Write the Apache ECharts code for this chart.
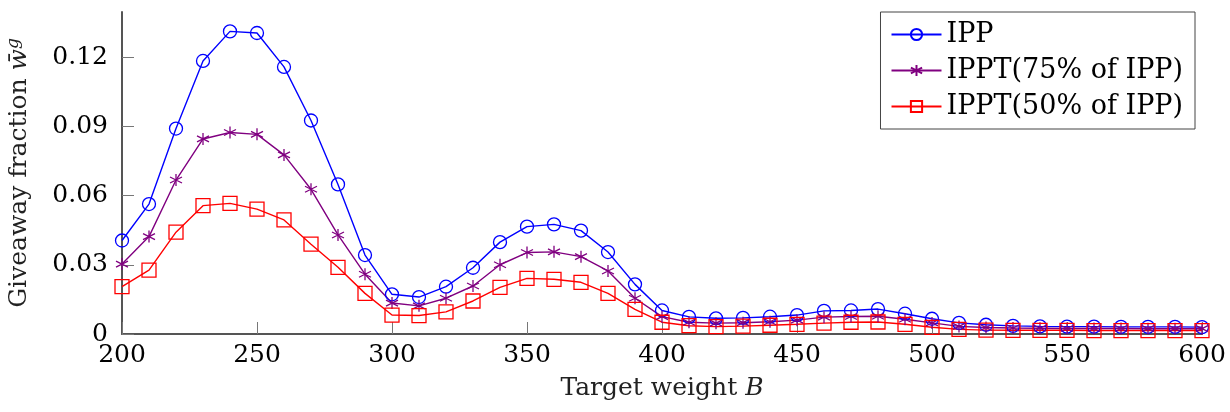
<!DOCTYPE html>
<html>
<head>
<meta charset="utf-8">
<script src="https://cdn.jsdelivr.net/npm/echarts@6/dist/echarts.min.js"></script>
<style>
  html, body { margin: 0; padding: 0; background: #fff; }
  #chart { width: 1230px; height: 412px; }
</style>
</head>
<body>
<div id="chart"></div>
<script>
// target weights B
const weights = [200, 210, 220, 230, 240, 250, 260, 270, 280, 290, 300, 310, 320, 330, 340, 350, 360, 370, 380, 390, 400,
  410, 420, 430, 440, 450, 460, 470, 480, 490, 500, 510, 520, 530, 540, 550, 560, 570, 580, 590, 600]

const ipp = [0.0405, 0.0563, 0.0890, 0.1183, 0.1311, 0.1304, 0.1157, 0.0925, 0.0648, 0.0342, 0.0172,
  0.0160, 0.0205, 0.0287, 0.0398, 0.0465, 0.0475, 0.0448, 0.0355, 0.0215, 0.0102,
  0.0074, 0.0068, 0.0070, 0.0075, 0.0082, 0.0100, 0.0102, 0.0108, 0.0088, 0.0066,
  0.0048, 0.0040, 0.0035, 0.0033, 0.0032, 0.0032, 0.0031, 0.0031, 0.0031, 0.0030]

const ippt75 = [0.0303, 0.0422, 0.0667, 0.0845, 0.0873, 0.0865, 0.0776, 0.0627, 0.0429, 0.0259, 0.0134,
  0.0122, 0.0155, 0.0208, 0.0300, 0.0353, 0.0356, 0.0335, 0.0273, 0.0155, 0.0075,
  0.0051, 0.0047, 0.0049, 0.0053, 0.0060, 0.0073, 0.0076, 0.0077, 0.0064, 0.0048,
  0.0033, 0.0028, 0.0026, 0.0025, 0.0024, 0.0024, 0.0024, 0.0023, 0.0023, 0.0023]

const ippt50 = [0.0205, 0.0277, 0.0441, 0.0556, 0.0566, 0.0541, 0.0494, 0.0389, 0.0289, 0.0176, 0.0082,
  0.0080, 0.0096, 0.0143, 0.0202, 0.0241, 0.0237, 0.0224, 0.0176, 0.0107, 0.0051,
  0.0036, 0.0032, 0.0034, 0.0038, 0.0042, 0.0047, 0.0051, 0.0052, 0.0042, 0.0029,
  0.0020, 0.0017, 0.0016, 0.0016, 0.0016, 0.0015, 0.0015, 0.0015, 0.0015, 0.0015]

const yTicks = [0, 0.03, 0.06, 0.09, 0.12]
const seriesNames = ['IPP', 'IPPT(75% of IPP)', 'IPPT(50% of IPP)']

const FONT = 'DejaVu Serif'
const axisGray = '#555'
const asterisk = 'path://M10,0 L10,20 M1.34,5 L18.66,15 M1.34,15 L18.66,5'

function pairs(ys) {
  return weights.map((w, i) => [w, ys[i]])
}

function lineSeries(name, ys, color, symbol, size) {
  return {
    name: name,
    type: 'line',
    data: pairs(ys),
    symbol: symbol,
    symbolSize: size,
    showAllSymbol: true,
    lineStyle: { color: color, width: 1.4 },
    itemStyle: { color: 'rgba(0,0,0,0)', borderColor: color, borderWidth: 1.3 },
    emphasis: { disabled: true },
    z: 2
  }
}

const chart = echarts.init(document.getElementById('chart'))
chart.setOption({
  animation: false,
  backgroundColor: '#fff',
  textStyle: { fontFamily: FONT, color: '#000' },
  grid: { left: 122, right: 28, top: 12, bottom: 78, outerBoundsMode: 'none' },
  legend: {
    orient: 'vertical',
    right: 35,
    top: 12,
    padding: [9, 12, 9, 10],
    itemWidth: 50,
    itemHeight: 14,
    itemGap: 9,
    borderColor: '#444',
    borderWidth: 1,
    backgroundColor: '#fff',
    data: seriesNames,
    textStyle: { fontFamily: FONT, fontSize: 27, color: '#000' }
  },
  xAxis: {
    type: 'value',
    min: 200,
    max: 600,
    interval: 50,
    name: 'Target weight {i|B}',
    nameLocation: 'middle',
    nameGap: 42,
    nameTextStyle: {
      fontFamily: FONT, fontSize: 25, color: '#222',
      rich: { i: { fontFamily: FONT, fontSize: 25, fontStyle: 'italic', color: '#222' } }
    },
    axisLine: { lineStyle: { color: axisGray, width: 2 } },
    axisTick: { inside: true, length: 12, lineStyle: { color: '#777', width: 1 } },
    axisLabel: { fontFamily: FONT, fontSize: 25, color: '#000', margin: 9 },
    splitLine: { show: false }
  },
  yAxis: {
    type: 'value',
    min: 0,
    max: 0.1395,
    name: 'Giveaway fraction {w|w̄}{g|g}',
    nameLocation: 'middle',
    nameGap: 88,
    nameTextStyle: {
      fontFamily: FONT, fontSize: 25, color: '#222',
      rich: {
        w: { fontFamily: FONT, fontSize: 25, fontStyle: 'italic', color: '#222' },
        g: { fontFamily: FONT, fontSize: 17, fontStyle: 'italic', color: '#222', padding: [0, 0, 12, 0] }
      }
    },
    axisLine: { show: true, lineStyle: { color: axisGray, width: 2 } },
    axisTick: { show: true, inside: true, length: 12, customValues: yTicks, lineStyle: { color: '#777', width: 1 } },
    axisLabel: {
      fontFamily: FONT, fontSize: 25, color: '#000', margin: 14,
      customValues: yTicks,
      formatter: v => (v === 0 ? '0' : v.toFixed(2))
    },
    splitLine: { show: false }
  },
  series: [
    lineSeries(seriesNames[0], ipp, '#0000ff', 'circle', 13),
    lineSeries(seriesNames[1], ippt75, '#800080', asterisk, 12),
    lineSeries(seriesNames[2], ippt50, '#ff0000', 'rect', 14)
  ]
})
</script>
</body>
</html>
